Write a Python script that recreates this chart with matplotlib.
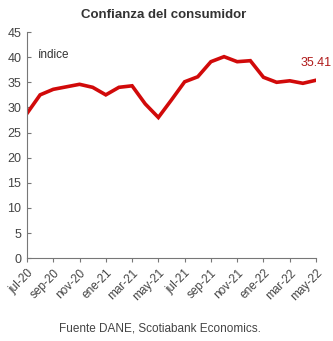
import matplotlib
matplotlib.use("Agg")
import matplotlib.pyplot as plt

plt.rcParams["font.family"] = ["Liberation Sans", "DejaVu Sans"]

months = ["jul-20","ago-20","sep-20","oct-20","nov-20","dic-20","ene-21","feb-21","mar-21","abr-21",
          "may-21","jun-21","jul-21","ago-21","sep-21","oct-21","nov-21","dic-21","ene-22","feb-22",
          "mar-22","abr-22","may-22"]
values = [28.8, 32.5, 33.6, 34.1, 34.6, 34.0, 32.5, 34.0, 34.3, 30.7,
          28.0, 31.5, 35.1, 36.1, 39.1, 40.1, 39.1, 39.3, 36.0, 35.0,
          35.3, 34.8, 35.41]
tick_labels = months[::2]

fig = plt.figure(figsize=(3.33, 3.41), dpi=100)
ax = fig.add_axes([0.081, 0.243, 0.868, 0.663])
x = list(range(len(values)))
ax.plot(x, values, color="#d10a0a", lw=2.6, solid_joinstyle="miter")
ax.set_xlim(0, len(values) - 1)
ax.set_ylim(0, 45)
ax.set_yticks(range(0, 46, 5))
ax.set_xticks(x[::2])
ax.set_xticklabels(tick_labels, rotation=45, ha="right", rotation_mode="anchor")
for s in ["top", "right"]:
    ax.spines[s].set_visible(False)
for s in ["left", "bottom"]:
    ax.spines[s].set_color("#777777")
ax.tick_params(axis="y", direction="in", length=3, colors="#777777", labelcolor="#444444", labelsize=9, pad=4)
ax.tick_params(axis="x", direction="out", length=3, colors="#777777", labelcolor="#444444", labelsize=8.5)
ax.text(0.035, 0.9, "índice", transform=ax.transAxes, fontsize=8.5, color="#333333", va="center")
ax.annotate(f"{values[-1]:.2f}", (x[-1], values[-1]), xytext=(0, 8), textcoords="offset points",
            ha="center", va="bottom", fontsize=9, color="#b01a1a")
fig.text(0.49, 0.955, "Confianza del consumidor", ha="center", va="center", fontsize=9.5, fontweight="bold", color="#333333")
fig.text(0.48, 0.038, "Fuente DANE, Scotiabank Economics.", ha="center", va="center", fontsize=8.5, color="#444444")
fig.savefig("out.png", dpi=100)
